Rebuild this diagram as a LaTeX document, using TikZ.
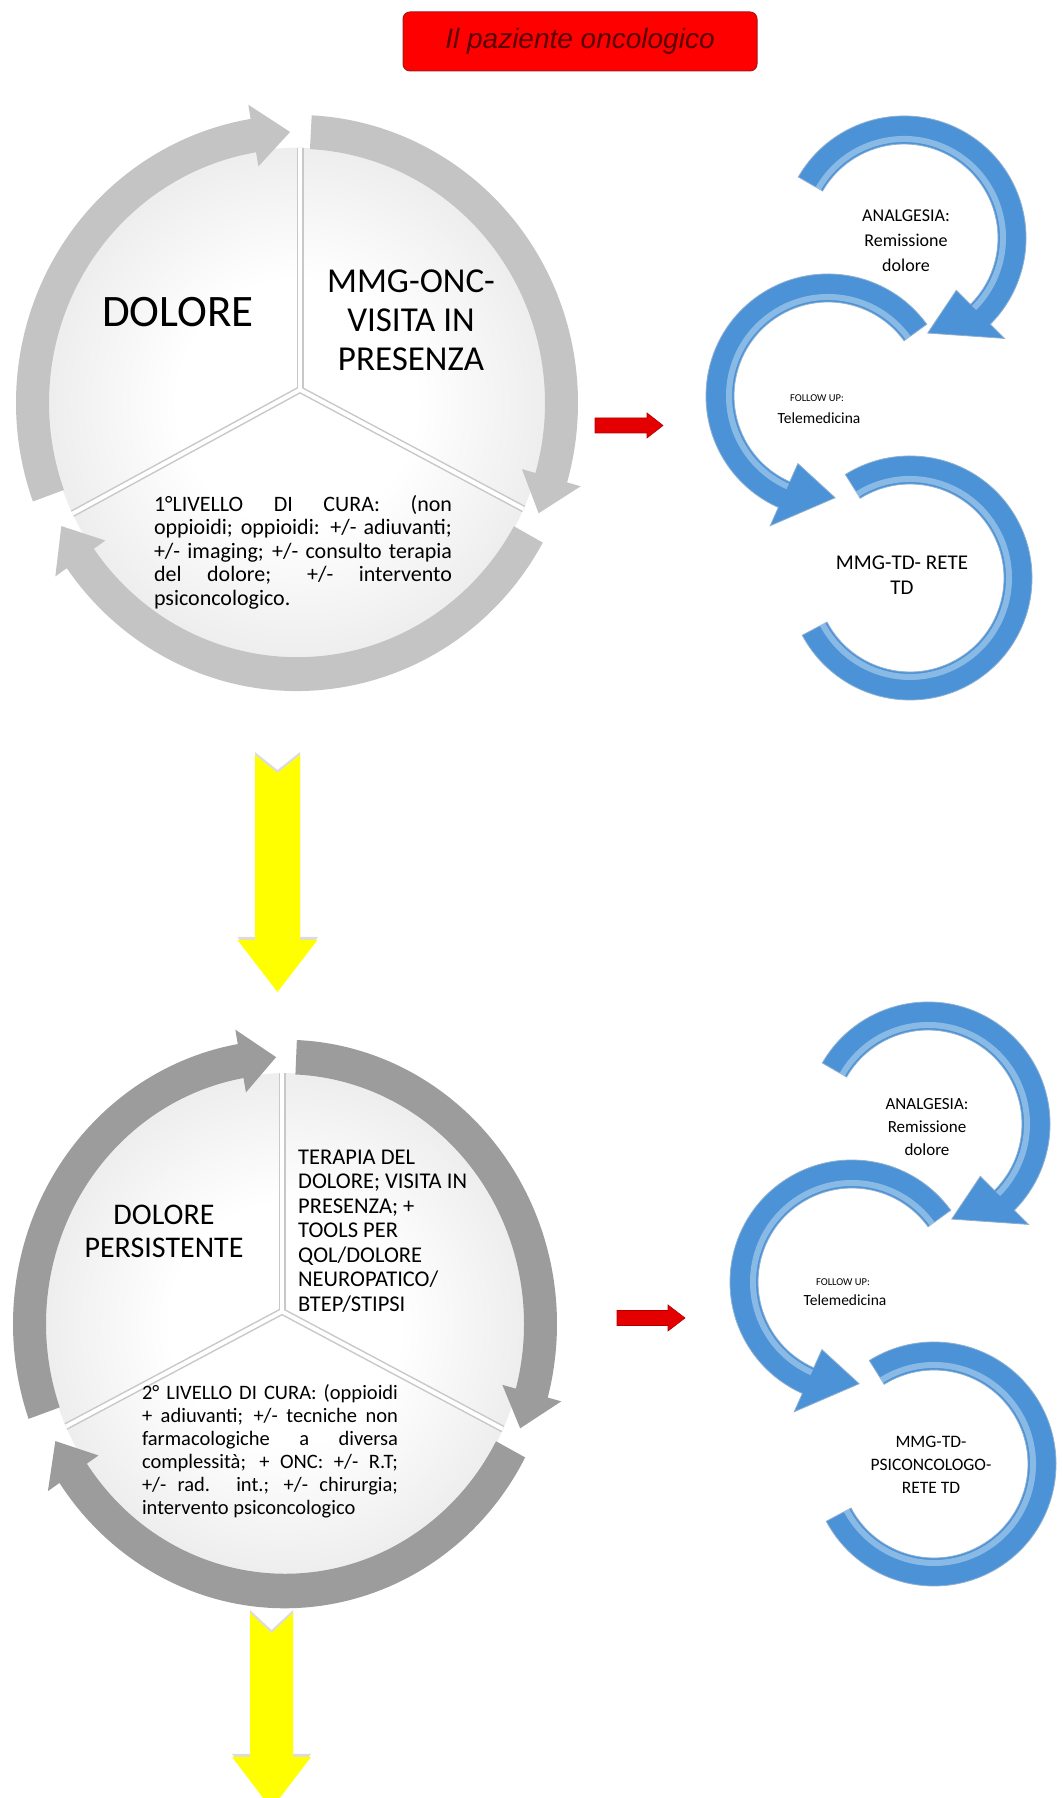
\documentclass[tikz,border=0pt]{standalone}
\usepackage{fontspec}
\setmainfont{Carlito}
\newfontfamily\titlefont{Liberation Sans}
\definecolor{ringA}{RGB}{196,196,196}
\definecolor{ringB}{RGB}{156,156,156}
\definecolor{pieedge}{RGB}{204,204,204}
\definecolor{divshade}{RGB}{200,200,200}
\definecolor{arcblue}{RGB}{76,146,214}
\definecolor{arclight}{RGB}{170,208,240}
\definecolor{arcedge}{RGB}{140,175,210}
\definecolor{titlered}{RGB}{255,0,0}
\definecolor{titleedge}{RGB}{170,20,20}
\definecolor{titletext}{RGB}{90,0,0}
\definecolor{arrowred}{RGB}{228,0,0}
\definecolor{arrowyellow}{RGB}{255,255,0}
\pgfdeclareradialshading{piegrad}{\pgfpoint{0bp}{0bp}}{color(0bp)=(white); color(12bp)=(white); color(50bp)=(pieedge)}

% all shapes below are drawn around the origin of the current scope
% ring segment with arrow head: ri, ro, start, base, tip, tip radius, ext, style
\newcommand{\cycarrow}[8]{%
  \path[#8] ({#3}:{#2}) arc[start angle=#3, end angle=#4, radius=#2]
    -- ({#4}:{#2+#7}) -- ({#5}:{#6}) -- ({#4}:{#1-#7})
    -- ({#4}:{#1}) arc[start angle=#4, end angle=#3, radius=#1] -- cycle;}
% plain ring segment: ri, ro, start, end, style
\newcommand{\cycarc}[5]{%
  \path[#5] ({#3}:{#2}) arc[start angle=#3, end angle=#4, radius=#2]
    -- ({#4}:{#1}) arc[start angle=#4, end angle=#3, radius=#1] -- cycle;}
% inner highlight of a blue arc: radius, start, end
\newcommand{\arcglow}[3]{%
  \draw[arclight, line width=6pt, opacity=.65] ({#2}:{#1}) arc[start angle=#2, end angle=#3, radius=#1];}
% pie with dividers: radius, junction x, junction y, three divider angles
\newcommand{\piedisk}[6]{%
  \shade[shading=piegrad] (0,0) circle[radius=#1];
  \begin{scope}
    \clip (0,0) circle[radius=#1];
    \foreach \a in {#4,#5,#6} {\draw[divshade, line width=7pt] (#2,#3) -- ++(\a:330);}
    \foreach \a in {#4,#5,#6} {\draw[white, line width=4pt] (#2,#3) -- ++(\a:330);}
  \end{scope}}
% the three blue circular arrows
\newcommand{\bluearcs}{%
  \begin{scope}[shift={(910,1220)}]
    \cycarc{94}{122}{122}{-152}{bluearc}
    \arcglow{99}{122}{-152}
  \end{scope}
  \begin{scope}[shift={(828,1402)}]
    \cycarrow{94}{122}{36}{246}{274}{102}{20}{bluearc}
    \arcglow{99}{36}{246}
  \end{scope}
  \begin{scope}[shift={(904,1560)}]
    \cycarrow{94}{122}{150}{-45}{-76}{98}{20}{bluearc}
    \arcglow{99}{150}{-45}
  \end{scope}}

\begin{document}
\begin{tikzpicture}[x=1pt,y=1pt,
  ringone/.style={fill=ringA},
  ringtwo/.style={fill=ringB},
  bluearc/.style={fill=arcblue, draw=arcedge, line width=0.8pt},
  titlebox/.style={draw=titleedge, fill=titlered, rounded corners=7pt, line width=1pt,
    minimum width=354pt, minimum height=59pt, inner sep=0pt, text=titletext,
    font=\titlefont\itshape\fontsize{28}{32}\selectfont},
  bigtxt/.style={inner sep=0pt, align=center},
  yellowarrow/.style={fill=arrowyellow},
  yshadow/.style={fill=gray!60, opacity=.45},
  redarrow/.style={fill=arrowred, draw=red!70!black, line width=0.6pt}]
\useasboundingbox (0,0) rectangle (1062,1798);
\fill[white] (0,0) rectangle (1062,1798);

% title
\node[titlebox] (title) at (580,1756.5) {Il paziente oncologico};

% ---------------- circle 1 ----------------
\coordinate (C1) at (297,1395);
\begin{scope}[shift={(297,1395)}, yscale=1.025]
  \piedisk{249}{3}{13}{90}{208}{-27.5}
  \cycarrow{248}{281}{200}{99.5}{91.5}{264.5}{14}{ringone}
  \cycarrow{248}{281}{87}{-16}{-24}{264.5}{14}{ringone}
  \cycarrow{248}{281}{-29}{-145}{-153}{264.5}{14}{ringone}
\end{scope}

\node[bigtxt, font=\fontsize{45}{50}\selectfont] (dolore1) at (178,1486) {DOLORE};
\node[bigtxt, font=\fontsize{35}{39}\selectfont] (mmg1) at (411,1478) {MMG-ONC-\\VISITA IN\\PRESENZA};
\node[inner sep=0pt, align=left, font=\fontsize{22}{23.5}\selectfont] (liv1) at (303,1246)
  {\makebox[298pt][s]{1°LIVELLO DI CURA: (non}\\
   \makebox[298pt][s]{oppioidi; oppioidi: +/- adiuvanti;}\\
   \makebox[298pt][s]{+/- imaging; +/- consulto terapia}\\
   \makebox[298pt][s]{del dolore; +/- intervento}\\
   psiconcologico.};

% ---------------- circle 2 ----------------
\coordinate (C2) at (285,474);
\begin{scope}[shift={(285,474)}, yscale=1.045]
  \piedisk{240}{-3}{12}{90}{207}{-27}
  \cycarrow{239}{272}{199.5}{100}{92}{255.5}{14}{ringtwo}
  \cycarrow{239}{272}{87.5}{-15}{-23}{255.5}{14}{ringtwo}
  \cycarrow{239}{272}{-28}{-146}{-154}{255.5}{14}{ringtwo}
\end{scope}

\node[bigtxt, font=\fontsize{30}{33}\selectfont] (dolore2) at (164,566.5) {DOLORE\\PERSISTENTE};
\node[inner sep=0pt, anchor=west, align=left, font=\fontsize{22.5}{24.5}\selectfont] (tdd2) at (298,567)
  {TERAPIA DEL\\DOLORE; VISITA IN\\PRESENZA; +\\TOOLS PER\\QOL/DOLORE\\NEUROPATICO/\\BTEP/STIPSI};
\node[inner sep=0pt, align=left, font=\fontsize{20.5}{23}\selectfont] (liv2) at (270,347)
  {\makebox[256pt][s]{2° LIVELLO DI CURA: (oppioidi}\\
   \makebox[256pt][s]{+ adiuvanti; +/- tecniche non}\\
   \makebox[256pt][s]{farmacologiche a diversa}\\
   \makebox[256pt][s]{complessità; + ONC: +/- R.T;}\\
   \makebox[256pt][s]{+/- rad. int.; +/- chirurgia;}\\
   intervento psiconcologico};

% ---------------- yellow arrows ----------------
\fill[yshadow] (255,1046) -- (277.5,1028) -- (300,1046) -- (300,861) -- (318,861) -- (277.5,809) -- (237.5,861) -- (255,861) -- cycle;
\fill[yellowarrow] (255,1043) -- (277.5,1025) -- (300,1043) -- (300,858) -- (317.5,858) -- (277.5,806) -- (237.5,858) -- (255,858) -- cycle;
\fill[yshadow] (250,188) -- (271.5,168) -- (293,188) -- (293,44) -- (311,44) -- (271.5,-8) -- (232,44) -- (250,44) -- cycle;
\fill[yellowarrow] (250,185) -- (271.5,165) -- (293,185) -- (293,41) -- (311,41) -- (271.5,-11) -- (232,41) -- (250,41) -- cycle;

% ---------------- red arrows ----------------
\path[redarrow] (595,1365) -- (647,1365) -- (647,1360) -- (663,1372.5) -- (647,1385) -- (647,1380) -- (595,1380) -- cycle;
\path[redarrow] (617,472.5) -- (668,472.5) -- (668,467) -- (685,480) -- (668,493) -- (668,487.5) -- (617,487.5) -- cycle;

% ---------------- blue group 1 ----------------
\bluearcs
\node[bigtxt, font=\fontsize{18}{25}\selectfont] (g1a) at (906,1557) {ANALGESIA:\\Remissione\\dolore};
\node[bigtxt, font=\fontsize{10.5}{12}\selectfont] (g1f) at (817,1400) {FOLLOW UP:};
\node[bigtxt, font=\fontsize{15.5}{18}\selectfont] (g1t) at (819,1380) {Telemedicina};
\node[bigtxt, font=\fontsize{21}{25}\selectfont] (g1m) at (902,1222.5) {MMG-TD- RETE\\TD};

% ---------------- blue group 2 ----------------
\begin{scope}[shift={(24,-886)}]
\bluearcs
\node[bigtxt, font=\fontsize{17}{23}\selectfont] (g2a) at (903,1557) {ANALGESIA:\\Remissione\\dolore};
\node[bigtxt, font=\fontsize{10.5}{12}\selectfont] (g2f) at (819,1402) {FOLLOW UP:};
\node[bigtxt, font=\fontsize{15.5}{18}\selectfont] (g2t) at (821,1384) {Telemedicina};
\node[bigtxt, font=\fontsize{17.5}{23}\selectfont] (g2m) at (907,1219) {MMG-TD-\\PSICONCOLOGO-\\RETE TD};
\end{scope}
\end{tikzpicture}
\end{document}
